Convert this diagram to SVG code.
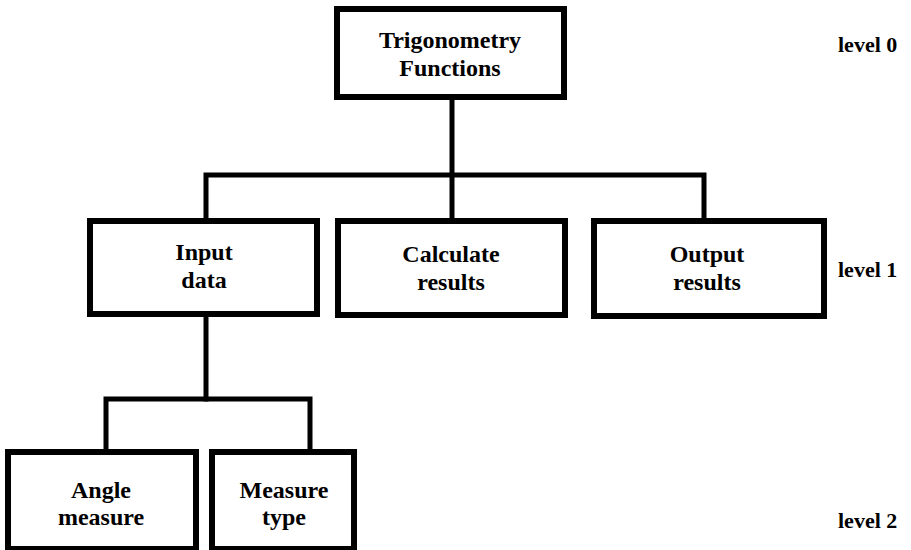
<svg xmlns="http://www.w3.org/2000/svg" width="911" height="550" viewBox="0 0 911 550">
<style>
.box{fill:#fff;stroke:#000;stroke-width:6}
.con{fill:none;stroke:#000;stroke-width:5;stroke-linejoin:miter;stroke-linecap:square}
.t{font-family:"Liberation Serif","Times New Roman",serif;font-weight:bold;font-size:24px;text-anchor:middle;fill:#000}
.lv{font-family:"Liberation Serif","Times New Roman",serif;font-weight:bold;font-size:22px;fill:#000}
</style>
<rect width="911" height="550" fill="#fff"/>
<g id="connectors">
<path class="con" d="M452,100 V218"/>
<path class="con" d="M206,218 V175 H704 V218"/>
<path class="con" d="M206,317 V399"/>
<path class="con" d="M106,449 V399 H310 V449"/>
</g>
<g id="trig">
<rect class="box" x="337" y="9" width="227" height="88"/>
<text class="t" x="450" y="48">Trigonometry</text>
<text class="t" x="450" y="76">Functions</text>
</g>
<g id="input">
<rect class="box" x="90" y="221" width="227" height="93"/>
<text class="t" x="204" y="260">Input</text>
<text class="t" x="204" y="288">data</text>
</g>
<g id="calc">
<rect class="box" x="338" y="221" width="227" height="94"/>
<text class="t" x="451" y="262">Calculate</text>
<text class="t" x="451" y="290">results</text>
</g>
<g id="output">
<rect class="box" x="594" y="221" width="230" height="95"/>
<text class="t" x="707" y="262">Output</text>
<text class="t" x="707" y="290">results</text>
</g>
<g id="angle">
<rect class="box" x="8" y="452" width="188" height="97"/>
<text class="t" x="101" y="498">Angle</text>
<text class="t" x="101" y="525">measure</text>
</g>
<g id="mtype">
<rect class="box" x="212" y="452" width="142" height="97"/>
<text class="t" x="284" y="498">Measure</text>
<text class="t" x="284" y="525">type</text>
</g>
<g id="levels">
<text class="lv" x="838" y="52">level 0</text>
<text class="lv" x="838" y="277">level 1</text>
<text class="lv" x="838" y="528">level 2</text>
</g>
</svg>
